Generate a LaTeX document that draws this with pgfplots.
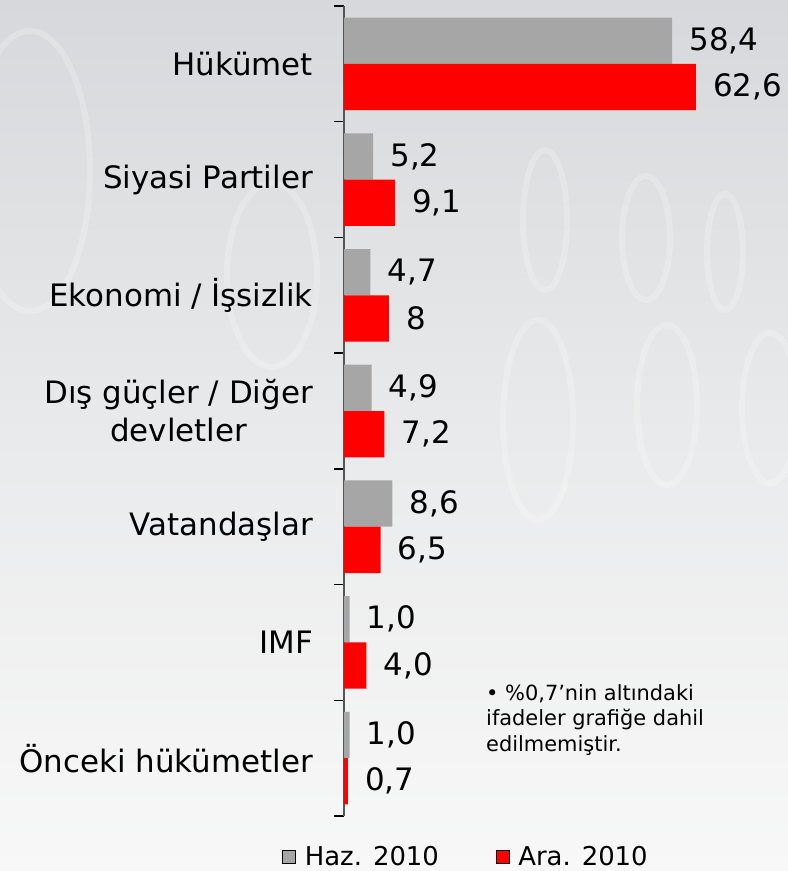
\documentclass[border=0pt]{standalone}
\usepackage{pgfplots}
\usepackage{pgfplotstable}
\pgfplotsset{compat=1.18}
\usepackage{fontspec}
\setmainfont{DejaVu Sans}
\definecolor{graybar}{HTML}{A6A6A6}
\definecolor{redbar}{HTML}{FF0000}
\definecolor{bgtop}{HTML}{D6D8DB}
\definecolor{bgmid}{HTML}{E9EAEB}
\definecolor{bgbot}{HTML}{F8F8F8}
\definecolor{axisgray}{HTML}{555555}

\pgfplotstableread{
y x label
0 58.4 58,4
1 5.2 5,2
2 4.7 4,7
3 4.9 4,9
4 8.6 8,6
5 1.0 1,0
6 1.0 1,0
}\haz
\pgfplotstableread{
y x label
0 62.6 62,6
1 9.1 9,1
2 8.0 8
3 7.2 7,2
4 6.5 6,5
5 4.0 4,0
6 0.7 0,7
}\ara

\begin{document}
\begin{tikzpicture}[x=1bp,y=1bp]
\useasboundingbox (0,0) rectangle (788,871);
\shade[top color=bgtop, bottom color=bgbot, middle color=bgmid] (0,0) rectangle (788,871);
\begin{scope}
\clip (0,0) rectangle (788,871);
\begin{scope}[draw=white, opacity=0.22, line width=6bp]
\draw (272,596) ellipse (45 and 92);
\draw (545,651) ellipse (22 and 70);
\draw (646,633) ellipse (24 and 62);
\draw (725,619) ellipse (18 and 58);
\draw (538,451) ellipse (35 and 100);
\draw (667,466) ellipse (30 and 80);
\draw (770,463) ellipse (28 and 75);
\draw (30,700) ellipse (60 and 140);
\end{scope}
\end{scope}
\begin{axis}[
  at={(344bp,55bp)}, anchor=south west,
  scale only axis, width=444bp, height=810bp,
  xmin=0, xmax=79, ymin=-0.5, ymax=6.5,
  y dir=reverse,
  axis x line=none, axis y line=left,
  y axis line style={-, draw=axisgray, line width=1.5bp},
  ytick={0,...,6},
  yticklabels={Hükümet, Siyasi Partiler, Ekonomi / İşsizlik, {Dış güçler / Diğer\\devletler}, Vatandaşlar, IMF, Önceki hükümetler},
  yticklabel style={align=center, anchor=east, inner sep=0pt, font=\fontsize{31}{38}\selectfont, text=black},
  major tick length=0pt,
  minor ytick={-0.5,0.5,...,6.5},
  minor tick length=10bp,
  tick align=outside,
  minor tick style={black, line width=1.5bp},
  tick label style={xshift=-31bp},
  clip=false,
  nodes near coords={\pgfplotspointmeta},
  point meta=explicit symbolic,
  every node near coord/.append style={anchor=west, inner sep=0pt, xshift=17bp, font=\fontsize{31}{38}\selectfont, text=black},
  legend style={at={(0.275,-0.0506)}, anchor=center, draw=none, fill=none, legend columns=2,
    font=\fontsize{26}{30}\selectfont,
    /tikz/every odd column/.append style={column sep=7bp},
    /tikz/every even column/.append style={column sep=55bp}},
  legend image code/.code={\fill[#1] (-7bp,-6.5bp) rectangle (6bp,6.5bp);},
]
\addplot[xbar, bar width=0.4, bar shift=0, fill=graybar, draw=none, forget plot]
  table[x=x, y expr=\thisrow{y}-0.2, meta=label]{\haz};
\addplot[xbar, bar width=0.4, bar shift=0, fill=redbar, draw=none, forget plot]
  table[x=x, y expr=\thisrow{y}+0.2, meta=label]{\ara};
\addlegendimage{fill=graybar}
\addlegendentry{Haz. 2010}
\addlegendimage{fill=redbar}
\addlegendentry{Ara. 2010}
\end{axis}
\node[anchor=north west, align=left, inner sep=0pt, font=\fontsize{21}{26}\selectfont] at (486,187)
  {• \%0,7’nin altındaki\\ifadeler grafiğe dahil\\edilmemiştir.};
\end{tikzpicture}
\end{document}
